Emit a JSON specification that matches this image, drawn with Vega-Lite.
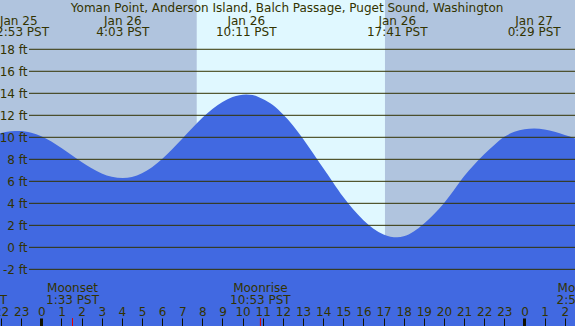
{
  "$schema": "https://vega.github.io/schema/vega-lite/v6.json",
  "width": 575,
  "height": 326,
  "autosize": {"type": "none"},
  "padding": 0,
  "background": "#b0c4de",
  "config": {
    "view": {"stroke": null, "fill": "#b0c4de"},
    "font": "DejaVu Sans",
    "axis": {"labelOverlap": false, "labelBound": false, "labelFlush": false},
    "text": {"font": "DejaVu Sans", "fontSize": 12, "color": "#333300"}
  },
  "datasets": {
    "tide": [
      {"t": -2.5, "ft": 10.2},
      {"t": -2.05, "ft": 10.36},
      {"t": -1.5, "ft": 10.54},
      {"t": -1.12, "ft": 10.57},
      {"t": -0.5, "ft": 10.42},
      {"t": 0.0, "ft": 10.1},
      {"t": 0.5, "ft": 9.62},
      {"t": 1.0, "ft": 9.02},
      {"t": 1.5, "ft": 8.39},
      {"t": 2.0, "ft": 7.75},
      {"t": 2.5, "ft": 7.18},
      {"t": 3.0, "ft": 6.72},
      {"t": 3.5, "ft": 6.42},
      {"t": 4.05, "ft": 6.3},
      {"t": 4.5, "ft": 6.4},
      {"t": 5.0, "ft": 6.74},
      {"t": 5.5, "ft": 7.28},
      {"t": 6.0, "ft": 8.03},
      {"t": 6.5, "ft": 8.92},
      {"t": 7.0, "ft": 9.88},
      {"t": 7.5, "ft": 10.84},
      {"t": 8.0, "ft": 11.77},
      {"t": 8.5, "ft": 12.58},
      {"t": 9.0, "ft": 13.22},
      {"t": 9.5, "ft": 13.67},
      {"t": 10.18, "ft": 13.9},
      {"t": 10.5, "ft": 13.85},
      {"t": 11.0, "ft": 13.48},
      {"t": 11.5, "ft": 12.93},
      {"t": 12.0, "ft": 12.1},
      {"t": 12.5, "ft": 11.08},
      {"t": 13.0, "ft": 9.88},
      {"t": 13.5, "ft": 8.56},
      {"t": 14.0, "ft": 7.21},
      {"t": 14.5, "ft": 5.88},
      {"t": 15.0, "ft": 4.57},
      {"t": 15.5, "ft": 3.45},
      {"t": 16.0, "ft": 2.47},
      {"t": 16.5, "ft": 1.69},
      {"t": 17.0, "ft": 1.17},
      {"t": 17.68, "ft": 0.91},
      {"t": 18.0, "ft": 1.0},
      {"t": 18.5, "ft": 1.45},
      {"t": 19.0, "ft": 2.15},
      {"t": 19.5, "ft": 3.0},
      {"t": 20.0, "ft": 4.0},
      {"t": 20.5, "ft": 5.2},
      {"t": 21.0, "ft": 6.45},
      {"t": 21.5, "ft": 7.5},
      {"t": 22.0, "ft": 8.45},
      {"t": 22.5, "ft": 9.3},
      {"t": 23.0, "ft": 10.05},
      {"t": 23.5, "ft": 10.5},
      {"t": 24.0, "ft": 10.73},
      {"t": 24.48, "ft": 10.8},
      {"t": 25.0, "ft": 10.72},
      {"t": 25.5, "ft": 10.5},
      {"t": 26.0, "ft": 10.2},
      {"t": 26.51, "ft": 9.9},
      {"t": 26.8, "ft": 9.7}
    ],
    "daylight": [{"start": 7.72, "end": 17.07}],
    "grid": [{"v": -2}, {"v": 0}, {"v": 2}, {"v": 4}, {"v": 6}, {"v": 8}, {"v": 10}, {"v": 12}, {"v": 14}, {"v": 16}, {"v": 18}],
    "extremes": [
      {"t": -1.12, "date": "Jan 25", "clock": "22:53 PST"},
      {"t": 4.05, "date": "Jan 26", "clock": "4:03 PST"},
      {"t": 10.18, "date": "Jan 26", "clock": "10:11 PST"},
      {"t": 17.68, "date": "Jan 26", "clock": "17:41 PST"},
      {"t": 24.48, "date": "Jan 27", "clock": "0:29 PST"}
    ],
    "moon": [
      {"t": -3.21, "name": "", "clock": "20:49 PST"},
      {"t": 1.55, "name": "Moonset", "clock": "1:33 PST"},
      {"t": 10.883, "name": "Moonrise", "clock": "10:53 PST"},
      {"t": 26.91, "name": "Moonset", "clock": "2:55 PST"}
    ],
    "moonticks": [{"t": 1.55}, {"t": 10.883}],
    "title": [{"label": "Yoman Point, Anderson Island, Balch Passage, Puget Sound, Washington"}]
  },
  "layer": [
    {
      "data": {"name": "daylight"},
      "mark": {"type": "rect", "color": "#e0f8ff"},
      "encoding": {
        "x": {
          "field": "start", "type": "quantitative",
          "scale": {"domain": [-2.052, 26.51], "nice": false, "zero": false},
          "axis": {"orient": "top", "offset": -326, "title": null, "values": [-2, -1, 0, 1, 2, 3, 4, 5, 6, 7, 8, 9, 10, 11, 12, 13, 14, 15, 16, 17, 18, 19, 20, 21, 22, 23, 24, 25, 26], "labelExpr": "'' + ((datum.value + 48) % 24)", "tickSize": 8, "tickColor": "#111100", "tickWidth": {"condition": {"test": "datum.value % 24 === 0", "value": 3}, "value": 1}, "labelFont": "DejaVu Sans", "labelFontSize": 12, "labelColor": "#333300", "labelBaseline": "alphabetic", "labelPadding": 3, "labelFlush": false, "labelOverlap": false, "labelBound": false, "domain": false, "grid": false, "zindex": 1}
        },
        "x2": {"field": "end"},
        "y": {
          "datum": 22.48, "type": "quantitative",
          "scale": {"domain": [-7.15, 22.48], "nice": false, "zero": false},
          "axis": {"orient": "left", "offset": -29, "title": null, "values": [-2, 0, 2, 4, 6, 8, 10, 12, 14, 16, 18], "labelExpr": "datum.value + ' ft'", "ticks": false, "tickSize": 0, "domain": false, "grid": false, "labelPadding": 2, "labelFont": "DejaVu Sans", "labelFontSize": 12, "labelColor": "#333300", "labelFlush": false, "labelOverlap": false, "labelBound": false, "zindex": 1}
        },
        "y2": {"datum": -7.15}
      }
    },
    {
      "data": {"name": "tide"},
      "mark": {"type": "area", "color": "#4169e1", "interpolate": "monotone", "clip": true},
      "encoding": {
        "x": {"field": "t", "type": "quantitative",
          "axis": {"orient": "top", "offset": -326, "title": null, "values": [-2, -1, 0, 1, 2, 3, 4, 5, 6, 7, 8, 9, 10, 11, 12, 13, 14, 15, 16, 17, 18, 19, 20, 21, 22, 23, 24, 25, 26], "labelExpr": "'' + ((datum.value + 48) % 24)", "tickSize": 8, "tickColor": "#111100", "tickWidth": {"condition": {"test": "datum.value % 24 === 0", "value": 3}, "value": 1}, "labelFont": "DejaVu Sans", "labelFontSize": 12, "labelColor": "#333300", "labelBaseline": "alphabetic", "labelPadding": 3, "labelFlush": false, "labelOverlap": false, "labelBound": false, "domain": false, "grid": false, "zindex": 1}},
        "y": {"field": "ft", "type": "quantitative",
          "axis": {"orient": "left", "offset": -29, "title": null, "values": [-2, 0, 2, 4, 6, 8, 10, 12, 14, 16, 18], "labelExpr": "datum.value + ' ft'", "ticks": false, "tickSize": 0, "domain": false, "grid": false, "labelPadding": 2, "labelFont": "DejaVu Sans", "labelFontSize": 12, "labelColor": "#333300", "labelFlush": false, "labelOverlap": false, "labelBound": false, "zindex": 1}},
        "y2": {"datum": -7.15}
      }
    },
    {
      "data": {"name": "grid"},
      "mark": {"type": "rule", "color": "#333300", "strokeWidth": 1},
      "encoding": {
        "y": {"field": "v", "type": "quantitative",
          "axis": {"orient": "left", "offset": -29, "title": null, "values": [-2, 0, 2, 4, 6, 8, 10, 12, 14, 16, 18], "labelExpr": "datum.value + ' ft'", "ticks": false, "tickSize": 0, "domain": false, "grid": false, "labelPadding": 2, "labelFont": "DejaVu Sans", "labelFontSize": 12, "labelColor": "#333300", "labelFlush": false, "labelOverlap": false, "labelBound": false, "zindex": 1}},
        "x": {"datum": -0.611,
          "axis": {"orient": "top", "offset": -326, "title": null, "values": [-2, -1, 0, 1, 2, 3, 4, 5, 6, 7, 8, 9, 10, 11, 12, 13, 14, 15, 16, 17, 18, 19, 20, 21, 22, 23, 24, 25, 26], "labelExpr": "'' + ((datum.value + 48) % 24)", "tickSize": 8, "tickColor": "#111100", "tickWidth": {"condition": {"test": "datum.value % 24 === 0", "value": 3}, "value": 1}, "labelFont": "DejaVu Sans", "labelFontSize": 12, "labelColor": "#333300", "labelBaseline": "alphabetic", "labelPadding": 3, "labelFlush": false, "labelOverlap": false, "labelBound": false, "domain": false, "grid": false, "zindex": 1}},
        "x2": {"datum": 26.51}
      }
    },
    {
      "data": {"name": "moonticks"},
      "mark": {"type": "rule", "color": "#e00000", "strokeWidth": 1},
      "encoding": {
        "x": {"field": "t", "type": "quantitative",
          "axis": {"orient": "top", "offset": -326, "title": null, "values": [-2, -1, 0, 1, 2, 3, 4, 5, 6, 7, 8, 9, 10, 11, 12, 13, 14, 15, 16, 17, 18, 19, 20, 21, 22, 23, 24, 25, 26], "labelExpr": "'' + ((datum.value + 48) % 24)", "tickSize": 8, "tickColor": "#111100", "tickWidth": {"condition": {"test": "datum.value % 24 === 0", "value": 3}, "value": 1}, "labelFont": "DejaVu Sans", "labelFontSize": 12, "labelColor": "#333300", "labelBaseline": "alphabetic", "labelPadding": 3, "labelFlush": false, "labelOverlap": false, "labelBound": false, "domain": false, "grid": false, "zindex": 1}},
        "y": {"datum": -6.43,
          "axis": {"orient": "left", "offset": -29, "title": null, "values": [-2, 0, 2, 4, 6, 8, 10, 12, 14, 16, 18], "labelExpr": "datum.value + ' ft'", "ticks": false, "tickSize": 0, "domain": false, "grid": false, "labelPadding": 2, "labelFont": "DejaVu Sans", "labelFontSize": 12, "labelColor": "#333300", "labelFlush": false, "labelOverlap": false, "labelBound": false, "zindex": 1}},
        "y2": {"datum": -7.15}
      }
    },
    {
      "data": {"name": "title"},
      "mark": {"type": "text", "align": "center", "baseline": "alphabetic"},
      "encoding": {
        "text": {"field": "label"},
        "x": {"datum": 12.21,
          "axis": {"orient": "top", "offset": -326, "title": null, "values": [-2, -1, 0, 1, 2, 3, 4, 5, 6, 7, 8, 9, 10, 11, 12, 13, 14, 15, 16, 17, 18, 19, 20, 21, 22, 23, 24, 25, 26], "labelExpr": "'' + ((datum.value + 48) % 24)", "tickSize": 8, "tickColor": "#111100", "tickWidth": {"condition": {"test": "datum.value % 24 === 0", "value": 3}, "value": 1}, "labelFont": "DejaVu Sans", "labelFontSize": 12, "labelColor": "#333300", "labelBaseline": "alphabetic", "labelPadding": 3, "labelFlush": false, "labelOverlap": false, "labelBound": false, "domain": false, "grid": false, "zindex": 1}},
        "y": {"datum": 21.36,
          "axis": {"orient": "left", "offset": -29, "title": null, "values": [-2, 0, 2, 4, 6, 8, 10, 12, 14, 16, 18], "labelExpr": "datum.value + ' ft'", "ticks": false, "tickSize": 0, "domain": false, "grid": false, "labelPadding": 2, "labelFont": "DejaVu Sans", "labelFontSize": 12, "labelColor": "#333300", "labelFlush": false, "labelOverlap": false, "labelBound": false, "zindex": 1}}
      }
    },
    {
      "data": {"name": "extremes"},
      "mark": {"type": "text", "align": "center", "baseline": "alphabetic"},
      "encoding": {
        "text": {"field": "date"},
        "x": {"field": "t", "type": "quantitative",
          "axis": {"orient": "top", "offset": -326, "title": null, "values": [-2, -1, 0, 1, 2, 3, 4, 5, 6, 7, 8, 9, 10, 11, 12, 13, 14, 15, 16, 17, 18, 19, 20, 21, 22, 23, 24, 25, 26], "labelExpr": "'' + ((datum.value + 48) % 24)", "tickSize": 8, "tickColor": "#111100", "tickWidth": {"condition": {"test": "datum.value % 24 === 0", "value": 3}, "value": 1}, "labelFont": "DejaVu Sans", "labelFontSize": 12, "labelColor": "#333300", "labelBaseline": "alphabetic", "labelPadding": 3, "labelFlush": false, "labelOverlap": false, "labelBound": false, "domain": false, "grid": false, "zindex": 1}},
        "y": {"datum": 20.21,
          "axis": {"orient": "left", "offset": -29, "title": null, "values": [-2, 0, 2, 4, 6, 8, 10, 12, 14, 16, 18], "labelExpr": "datum.value + ' ft'", "ticks": false, "tickSize": 0, "domain": false, "grid": false, "labelPadding": 2, "labelFont": "DejaVu Sans", "labelFontSize": 12, "labelColor": "#333300", "labelFlush": false, "labelOverlap": false, "labelBound": false, "zindex": 1}}
      }
    },
    {
      "data": {"name": "extremes"},
      "mark": {"type": "text", "align": "center", "baseline": "alphabetic"},
      "encoding": {
        "text": {"field": "clock"},
        "x": {"field": "t", "type": "quantitative",
          "axis": {"orient": "top", "offset": -326, "title": null, "values": [-2, -1, 0, 1, 2, 3, 4, 5, 6, 7, 8, 9, 10, 11, 12, 13, 14, 15, 16, 17, 18, 19, 20, 21, 22, 23, 24, 25, 26], "labelExpr": "'' + ((datum.value + 48) % 24)", "tickSize": 8, "tickColor": "#111100", "tickWidth": {"condition": {"test": "datum.value % 24 === 0", "value": 3}, "value": 1}, "labelFont": "DejaVu Sans", "labelFontSize": 12, "labelColor": "#333300", "labelBaseline": "alphabetic", "labelPadding": 3, "labelFlush": false, "labelOverlap": false, "labelBound": false, "domain": false, "grid": false, "zindex": 1}},
        "y": {"datum": 19.21,
          "axis": {"orient": "left", "offset": -29, "title": null, "values": [-2, 0, 2, 4, 6, 8, 10, 12, 14, 16, 18], "labelExpr": "datum.value + ' ft'", "ticks": false, "tickSize": 0, "domain": false, "grid": false, "labelPadding": 2, "labelFont": "DejaVu Sans", "labelFontSize": 12, "labelColor": "#333300", "labelFlush": false, "labelOverlap": false, "labelBound": false, "zindex": 1}}
      }
    },
    {
      "data": {"name": "moon"},
      "mark": {"type": "text", "align": "center", "baseline": "alphabetic"},
      "encoding": {
        "text": {"field": "name"},
        "x": {"field": "t", "type": "quantitative",
          "axis": {"orient": "top", "offset": -326, "title": null, "values": [-2, -1, 0, 1, 2, 3, 4, 5, 6, 7, 8, 9, 10, 11, 12, 13, 14, 15, 16, 17, 18, 19, 20, 21, 22, 23, 24, 25, 26], "labelExpr": "'' + ((datum.value + 48) % 24)", "tickSize": 8, "tickColor": "#111100", "tickWidth": {"condition": {"test": "datum.value % 24 === 0", "value": 3}, "value": 1}, "labelFont": "DejaVu Sans", "labelFontSize": 12, "labelColor": "#333300", "labelBaseline": "alphabetic", "labelPadding": 3, "labelFlush": false, "labelOverlap": false, "labelBound": false, "domain": false, "grid": false, "zindex": 1}},
        "y": {"datum": -4.06,
          "axis": {"orient": "left", "offset": -29, "title": null, "values": [-2, 0, 2, 4, 6, 8, 10, 12, 14, 16, 18], "labelExpr": "datum.value + ' ft'", "ticks": false, "tickSize": 0, "domain": false, "grid": false, "labelPadding": 2, "labelFont": "DejaVu Sans", "labelFontSize": 12, "labelColor": "#333300", "labelFlush": false, "labelOverlap": false, "labelBound": false, "zindex": 1}}
      }
    },
    {
      "data": {"name": "moon"},
      "mark": {"type": "text", "align": "center", "baseline": "alphabetic"},
      "encoding": {
        "text": {"field": "clock"},
        "x": {"field": "t", "type": "quantitative",
          "axis": {"orient": "top", "offset": -326, "title": null, "values": [-2, -1, 0, 1, 2, 3, 4, 5, 6, 7, 8, 9, 10, 11, 12, 13, 14, 15, 16, 17, 18, 19, 20, 21, 22, 23, 24, 25, 26], "labelExpr": "'' + ((datum.value + 48) % 24)", "tickSize": 8, "tickColor": "#111100", "tickWidth": {"condition": {"test": "datum.value % 24 === 0", "value": 3}, "value": 1}, "labelFont": "DejaVu Sans", "labelFontSize": 12, "labelColor": "#333300", "labelBaseline": "alphabetic", "labelPadding": 3, "labelFlush": false, "labelOverlap": false, "labelBound": false, "domain": false, "grid": false, "zindex": 1}},
        "y": {"datum": -5.15,
          "axis": {"orient": "left", "offset": -29, "title": null, "values": [-2, 0, 2, 4, 6, 8, 10, 12, 14, 16, 18], "labelExpr": "datum.value + ' ft'", "ticks": false, "tickSize": 0, "domain": false, "grid": false, "labelPadding": 2, "labelFont": "DejaVu Sans", "labelFontSize": 12, "labelColor": "#333300", "labelFlush": false, "labelOverlap": false, "labelBound": false, "zindex": 1}}
      }
    }
  ]
}
